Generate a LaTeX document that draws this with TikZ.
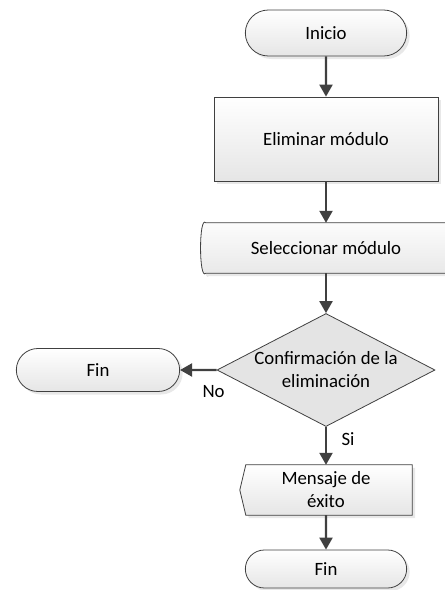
\documentclass[tikz,border=0pt]{standalone}
\usepackage{fontspec}
\setmainfont{Carlito}
\usepackage{tikz}
\usetikzlibrary{shapes.geometric,shapes.misc,arrows.meta,shadows,backgrounds}

\definecolor{linea}{HTML}{404040}
\definecolor{rombo}{HTML}{E4E4E4}

\begin{document}
\begin{tikzpicture}[x=1pt,y=-1pt,
    every node/.style={font=\fontsize{18.8}{23}\selectfont, align=center, text=black},
    sombra/.style={drop shadow={shadow xshift=3pt, shadow yshift=-3pt, opacity=0.18}},
    relleno/.style={draw=linea, line width=0.8pt, top color=white, bottom color=black!10, sombra},
    terminal/.style={rounded rectangle, relleno, minimum width=168pt, minimum height=46pt},
    proceso/.style={rectangle, relleno, minimum width=224pt, minimum height=84pt},
    hueco/.style={rectangle, inner sep=0pt},
    decision/.style={diamond, draw=linea, line width=0.8pt, fill=rombo, aspect=1.93, inner sep=-20pt, minimum width=218pt, minimum height=113pt},
    flecha/.style={draw=linea, line width=2.2pt, -{Triangle[length=12pt,width=13pt]}}
]
        % Frame
        \path[use as bounding box] (0,0) rectangle (445,590);
        \clip (0,0) rectangle (445,590);

        % Steps
        \node[terminal] (inicio) at (326,33) {Inicio};
        \node[proceso] (elim) at (326,139) {Eliminar módulo};
        \node[hueco, minimum width=250pt, minimum height=50pt] (sel) at (326,248) {Seleccionar módulo};
        \node[decision] (conf) at (326,370) {Confirmación de la\\eliminación};
        \node[terminal, minimum width=170pt, minimum height=43pt] (fin1) at (98,370) {Fin};
        \node[hueco, minimum width=172pt, minimum height=50pt] (msg) at (326,490) {Mensaje de\\éxito};
        \node[terminal, minimum height=38pt] (fin2) at (326,569) {Fin};

        % Outlines of the input and display shapes
        \begin{scope}[on background layer]
            \path[relleno] ([xshift=5pt]sel.north west) -- (sel.north east)
                .. controls ([xshift=-7pt,yshift=-8pt]sel.south east) and ([xshift=-7pt,yshift=8pt]sel.north east) .. (sel.south east)
                -- ([xshift=5pt]sel.south west)
                .. controls ([xshift=-2pt,yshift=-8pt]sel.south west) and ([xshift=-2pt,yshift=8pt]sel.north west) .. ([xshift=5pt]sel.north west) -- cycle;
            \path[relleno] ([xshift=6pt]msg.north west) -- (msg.north east) -- (msg.south east)
                -- ([xshift=6pt]msg.south west) -- (msg.west) -- cycle;
        \end{scope}

        % Flow
        \draw[flecha] (inicio) -- (elim);
        \draw[flecha] (elim) -- (sel);
        \draw[flecha] (sel) -- (conf);
        \draw[flecha] (conf) -- node[at start, xshift=-3pt, yshift=-22pt] {No} (fin1);
        \draw[flecha] (conf) -- node[at start, xshift=22pt, yshift=-12pt] {Si} (msg);
        \draw[flecha] (msg) -- (fin2);
\end{tikzpicture}
\end{document}
